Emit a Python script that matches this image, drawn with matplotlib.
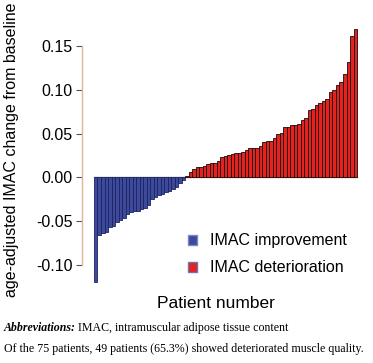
import matplotlib
matplotlib.use('Agg')
import matplotlib.pyplot as plt
import matplotlib.patches as mpatches

plt.rcParams['font.family'] = ['Liberation Sans', 'DejaVu Sans']

# IMAC change per patient, sorted (26 improved, 49 deteriorated)
improvement = [-0.120, -0.066, -0.064, -0.062, -0.057, -0.055, -0.051, -0.049,
               -0.046, -0.042, -0.040, -0.038, -0.038, -0.036, -0.035, -0.031,
               -0.025, -0.022, -0.020, -0.019, -0.017, -0.015, -0.013, -0.011,
               -0.006, -0.003]
deterioration = [0.002, 0.006, 0.009, 0.012, 0.012, 0.013, 0.015, 0.016, 0.016,
                 0.019, 0.023, 0.024, 0.025, 0.027, 0.028, 0.028,
                 0.029, 0.031, 0.033, 0.033, 0.034, 0.036, 0.040, 0.041, 0.042,
                 0.045, 0.050, 0.051, 0.057, 0.058, 0.060,
                 0.060, 0.061, 0.066, 0.068, 0.077, 0.078, 0.083, 0.085, 0.087,
                 0.089, 0.097, 0.100, 0.105, 0.109, 0.118, 0.132, 0.161, 0.169]
yticks = [-0.10, -0.05, 0.00, 0.05, 0.10, 0.15]
labels = ['IMAC improvement', 'IMAC deterioration']

BLUE = '#3d4a9c'
RED = '#e4231f'

fig = plt.figure(figsize=(3.73, 3.63), dpi=100)
ax = fig.add_axes([0.22, 0.2097, 0.74, 0.724])

n_imp = len(improvement)
x_imp = list(range(n_imp))
x_det = list(range(n_imp, n_imp + len(deterioration)))

ax.bar(x_imp, improvement, width=1.0, color=BLUE, edgecolor='#1c2360', linewidth=0.6)
ax.bar(x_det, deterioration, width=1.0, color=RED, edgecolor='#1a0a0a', linewidth=0.6)

n = n_imp + len(deterioration)
ax.set_xlim(-3.9, 74.8)
ax.set_ylim(-0.125, 0.175)

for s in ['top', 'right']:
    ax.spines[s].set_visible(False)
ax.spines['left'].set_bounds(yticks[0], yticks[-1])
ax.spines['left'].set_color('#e3b49a')
ax.spines['left'].set_linewidth(1.0)
ax.spines['bottom'].set_position(('data', 0))
ax.spines['bottom'].set_bounds(-0.5, n - 0.5)
ax.spines['bottom'].set_color('#8a8a8a')
ax.spines['bottom'].set_linewidth(1.0)
ax.spines['bottom'].set_zorder(0.5)

ax.set_xticks([])
ax.set_yticks(yticks)
ax.set_yticklabels(['%.2f' % v for v in yticks], fontsize=11.5)
ax.tick_params(axis='y', length=4, width=0.8, color='#555555', pad=3)

handles = [mpatches.Patch(facecolor=BLUE, edgecolor='#7b86c8', linewidth=1.0),
           mpatches.Patch(facecolor=RED, edgecolor='#6a74b8', linewidth=1.0)]
ax.legend(handles, labels, loc='upper left', bbox_to_anchor=(0.36, 0.228),
          frameon=False, fontsize=11.5, handlelength=0.6, handleheight=0.6,
          handletextpad=0.8, labelspacing=0.75, borderaxespad=0)

fig.text(12 / 373, 1 - 150 / 363, 'age-adjusted IMAC change from baseline',
         rotation=90, ha='center', va='center', fontsize=11.5)
fig.text(216 / 373, 1 - 303 / 363, 'Patient number', ha='center', va='center',
         fontsize=12.5)

# caption
serif = ['Liberation Serif', 'DejaVu Serif']
t1 = fig.text(4 / 373, 1 - 328 / 363, 'Abbreviations:', family=serif,
              style='italic', weight='bold', fontsize=8.6, va='center')
renderer = fig.canvas.get_renderer()
bb = t1.get_window_extent(renderer)
fig.text(bb.x1 / fig.bbox.width + 0.006, 1 - 328 / 363,
         'IMAC, intramuscular adipose tissue content', family=serif,
         fontsize=8.6, va='center')
fig.text(4 / 373, 1 - 349 / 363,
         'Of the 75 patients, 49 patients (65.3%) showed deteriorated muscle quality.',
         family=serif, fontsize=8.6, va='center')

fig.savefig('out.png', dpi=100)
